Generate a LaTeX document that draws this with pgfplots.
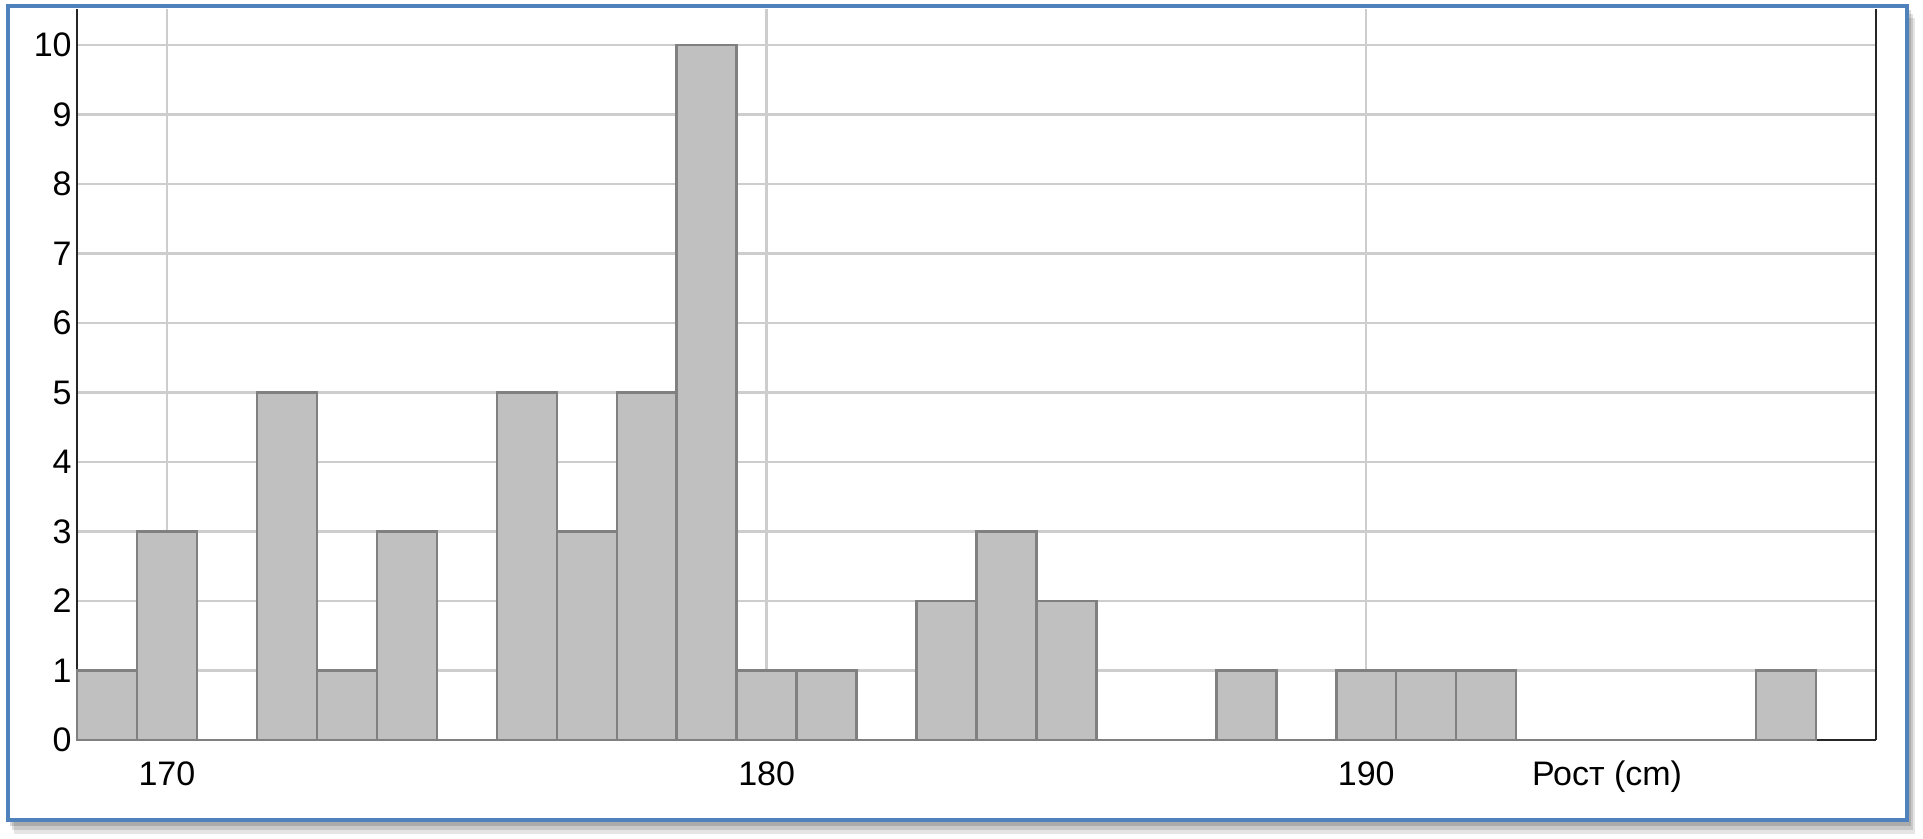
\documentclass[border=0pt]{standalone}
\usepackage{pgfplots}
\pgfplotsset{compat=1.18}
\usepackage{fontspec}
\setmainfont{Liberation Sans}
\definecolor{barfill}{RGB}{192,192,192}
\definecolor{baredge}{RGB}{128,128,128}
\definecolor{gridgray}{RGB}{205,205,205}
\definecolor{frameblue}{RGB}{79,129,189}

\begin{document}
\begin{tikzpicture}
\useasboundingbox (-38.5pt,-49.5pt) rectangle (923pt,370pt);
% window shadow
\fill[black, opacity=0.10] (-31.5pt,-47pt) rectangle (919pt,361pt);
\fill[black, opacity=0.12] (-32.5pt,-45pt) rectangle (918pt,363pt);
\fill[black, opacity=0.15] (-33.5pt,-43pt) rectangle (917pt,365pt);
\fill[white] (-34.5pt,-40pt) rectangle (915pt,367pt);

\begin{axis}[
    at={(0,0)}, anchor=south west,
    scale only axis, width=899.5pt, height=365.5pt,
    xmin=168.5, xmax=198.5, ymin=0, ymax=10.52,
    axis x line=bottom, axis y line=box,
    axis line style={-, black!85, line width=1.4pt},
    xtick={170,180,190}, ytick={0,...,10},
    major tick length=0pt,
    grid=major, major grid style={gridgray, line width=1.2pt},
    tick label style={font=\fontsize{17}{20}\selectfont},
    /pgf/number format/assume math mode=true,
    /pgf/number format/1000 sep={},
    xticklabel style={anchor=base, yshift=-23pt},
    yticklabel style={inner sep=0pt, xshift=-2.5pt},
    xlabel={Рост (cm)},
    xlabel style={at={(rel axis cs:0.8505,0)}, anchor=base, yshift=-23pt,
        font=\fontsize{17}{20}\selectfont},
    clip=false,
]
\addplot[ybar, bar width=1, fill=barfill, draw=baredge, line width=1.2pt] coordinates {
    (169,1) (170,3) (171,0) (172,5) (173,1) (174,3) (175,0) (176,5)
    (177,3) (178,5) (179,10) (180,1) (181,1) (182,0) (183,2) (184,3)
    (185,2) (186,0) (187,0) (188,1) (189,0) (190,1) (191,1) (192,1)
    (193,0) (194,0) (195,0) (196,0) (197,1)
};
\end{axis}

\draw[frameblue, line width=1.8pt] (-34.5pt,-40pt) rectangle (915pt,367pt);
\end{tikzpicture}
\end{document}
